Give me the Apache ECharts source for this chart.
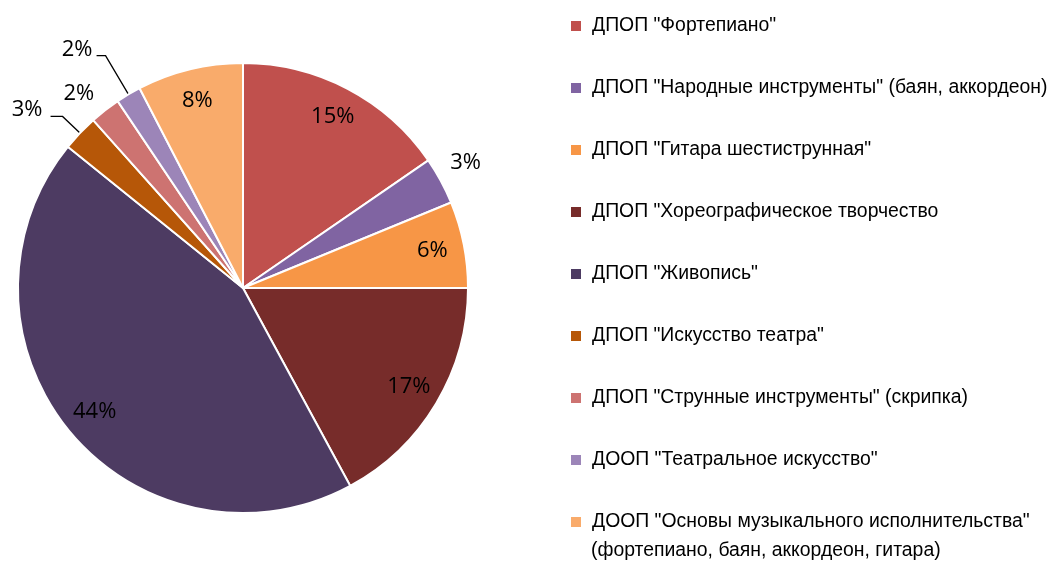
<!DOCTYPE html>
<html><head><meta charset="utf-8">
<script src="https://cdn.jsdelivr.net/npm/echarts@6/dist/echarts.min.js"></script>
<style>html,body{margin:0;padding:0;background:#fff}#c{width:1054px;height:564px}</style>
</head><body><div id="c"></div>
<script>
const categories = [
  'ДПОП "Фортепиано"',
  'ДПОП "Народные инструменты" (баян, аккордеон)',
  'ДПОП "Гитара шестиструнная"',
  'ДПОП "Хореографическое творчество',
  'ДПОП "Живопись"',
  'ДПОП "Искусство театра"',
  'ДПОП "Струнные инструменты" (скрипка)',
  'ДООП "Театральное искусство"',
  'ДООП "Основы музыкального исполнительства"\n(фортепиано, баян, аккордеон, гитара)'
];
const values = [15.4, 3.4, 6.2, 17.1, 43.7, 2.6, 2.2, 1.8, 7.6];
const colors = ['#C0504D','#8064A2','#F79646','#772C2A','#4D3B62','#B65708','#CD7371','#9C85B8','#F9AB6B'];
const insideLabel = [true, false, true, true, true, false, false, false, true];
// label-line style settings for the small slices (lengths, nudges)
const outsideLine = [null,
  {len:22, len2:0, show:false, dx:-15, dy:-8},
  null, null, null,
  {len:24, len2:12, show:true, dx:-3, dy:4, bottom:true},
  {len:16, len2:0, show:false, dx:4, dy:-4},
  {len:45, len2:9, show:true, dx:1, dy:5, bottom:true},
  null];

const fontPct = '"Open Sans", sans-serif';
const pctFmt = p => Math.round(p.percent) + '%';

const mainData = categories.map((n, i) => {
  const o = outsideLine[i];
  return {
    name: n, value: values[i],
    itemStyle: { color: colors[i] },
    label: { show: !!o },
    labelLine: o ? { show: o.show, length: o.len, length2: o.len2 } : { show: false }
  };
});
const innerData = categories.map((n, i) => ({
  name: n, value: values[i],
  itemStyle: { color: 'rgba(0,0,0,0)' },
  label: { show: insideLabel[i] }
}));

const legendFont = '"Liberation Sans Narrow", "Liberation Sans", sans-serif';
const chart = echarts.init(document.getElementById('c'), null, { renderer: 'canvas' });
chart.setOption({
  animation: false,
  backgroundColor: '#fff',
  legend: {
    orient: 'vertical',
    left: 569, top: 14, padding: 0,
    itemWidth: 12, itemHeight: 12, itemGap: 38,
    icon: 'rect',
    data: categories,
    formatter: n => n.split('\n')[0],
    textStyle: { fontFamily: legendFont, fontSize: 19.4, lineHeight: 24, color: '#000', padding: [0, 0, 0, 5] },
    selectedMode: false
  },
  graphic: [{
    type: 'text', left: 591, top: 541,
    style: { text: categories[8].split('\n')[1], font: '19.4px ' + legendFont, fill: '#000' }
  }],
  series: [{
    type: 'pie', center: [243, 288], radius: 225, startAngle: 90, clockwise: true,
    avoidLabelOverlap: false, silent: true,
    itemStyle: { borderColor: '#fff', borderWidth: 2 },
    label: { position: 'outside', formatter: pctFmt, fontFamily: fontPct, fontSize: 22, color: '#000', distanceToLabelLine: 5 },
    labelLine: { lineStyle: { color: '#000', width: 1.3 } },
    labelLayout: p => {
      const o = outsideLine[p.dataIndex];
      if (!o) return {};
      const r = { dx: o.dx, dy: o.dy };
      if (o.bottom) r.verticalAlign = 'bottom';
      return r;
    },
    data: mainData
  }, {
    type: 'pie', center: [243, 288], radius: [155, 225], startAngle: 90, clockwise: true,
    avoidLabelOverlap: false, silent: true,
    label: { position: 'inside', formatter: pctFmt, fontFamily: fontPct, fontSize: 22, color: '#000' },
    labelLine: { show: false },
    data: innerData
  }]
});
</script></body></html>
